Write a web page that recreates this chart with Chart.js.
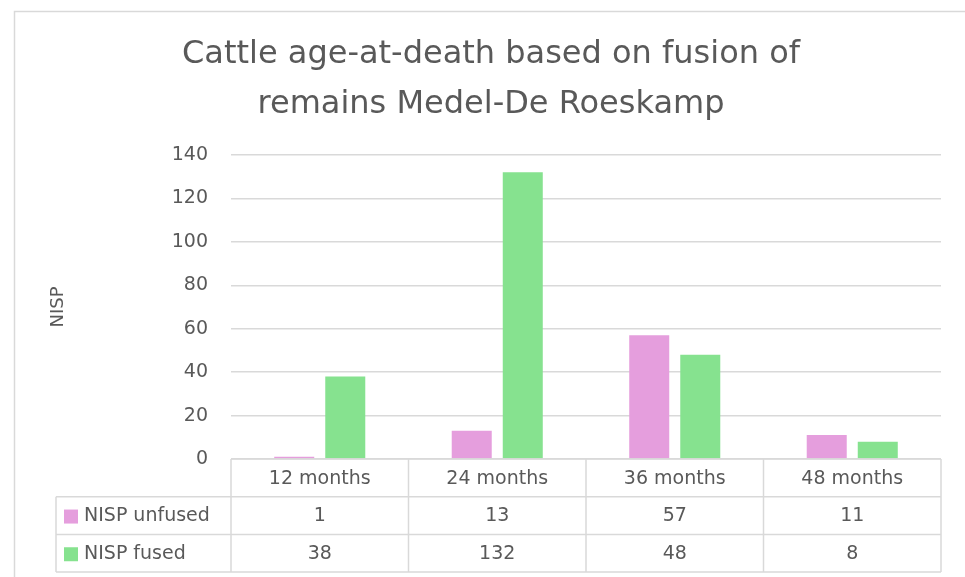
<!DOCTYPE html>
<html>
<head>
<meta charset="utf-8">
<script src="https://cdn.jsdelivr.net/npm/chart.js@4.4.1/dist/chart.umd.min.js"></script>
<style>
  html, body { margin: 0; padding: 0; background: #fff; }
</style>
</head>
<body>
<canvas id="chart" width="965" height="577"></canvas>
<script>
// Данные графика
const categories = ['12 months', '24 months', '36 months', '48 months'];
const unfused = [1, 13, 57, 11];
const fused = [38, 132, 48, 8];
const seriesNames = ['NISP unfused', 'NISP fused'];
const seriesColors = ['#E59EDD', '#86E28F'];
const yMax = 140;
const yStep = 20;

const textColor = '#595959';
const lineColor = '#D9D9D9';
const fontFamily = "'DejaVu Sans', sans-serif";

// Рамка вокруг всей диаграммы и таблица данных под осью X
const tablePlugin = {
    id: 'dataTable',
    beforeDraw(chart) {
        const ctx = chart.ctx;
        ctx.save();
        ctx.fillStyle = '#fff';
        ctx.fillRect(0, 0, chart.width, chart.height);
        ctx.strokeStyle = lineColor;
        ctx.lineWidth = 1.5;
        ctx.strokeRect(14.5, 11.5, chart.width, chart.height);
        ctx.restore();
    },
    afterDraw(chart) {
        const ctx = chart.ctx;
        const area = chart.chartArea;
        const n = categories.length;
        const colW = (area.right - area.left) / n;
        const top = area.bottom;
        const rowH = 37.7;
        const labelLeft = 56;
        const bottom = top + rowH * 3;

        ctx.save();
        ctx.strokeStyle = lineColor;
        ctx.lineWidth = 1.5;
        ctx.beginPath();
        // горизонтальные линии
        ctx.moveTo(area.left, top); ctx.lineTo(area.right, top);
        for (let r = 1; r <= 3; r++) {
            ctx.moveTo(labelLeft, top + rowH * r);
            ctx.lineTo(area.right, top + rowH * r);
        }
        // вертикальные линии
        for (let i = 0; i <= n; i++) {
            const x = area.left + colW * i;
            ctx.moveTo(x, top); ctx.lineTo(x, bottom);
        }
        ctx.moveTo(labelLeft, top + rowH); ctx.lineTo(labelLeft, bottom);
        ctx.stroke();

        ctx.fillStyle = textColor;
        ctx.font = '19px ' + fontFamily;
        ctx.textAlign = 'center';
        ctx.textBaseline = 'middle';
        const xs = chart.scales.x;
        categories.forEach((c, i) => {
            ctx.fillText(c, xs.getPixelForValue(i), top + rowH / 2 + 1);
        });
        chart.data.datasets.forEach((ds, r) => {
            const cy = top + rowH * (r + 1.5) + 1;
            ds.data.forEach((v, i) => {
                ctx.fillText(String(v), xs.getPixelForValue(i), cy);
            });
            // маркер серии и название
            ctx.fillStyle = ds.backgroundColor;
            ctx.fillRect(labelLeft + 8, cy - 7, 14, 14);
            ctx.fillStyle = textColor;
            ctx.textAlign = 'left';
            ctx.fillText(ds.label, labelLeft + 28, cy);
            ctx.textAlign = 'center';
        });
        ctx.restore();
    }
};

const ctx = document.getElementById('chart').getContext('2d');

const chart = new Chart(ctx, {
    type: 'bar',
    data: {
        labels: categories,
        datasets: [
            { label: seriesNames[0], data: unfused, backgroundColor: seriesColors[0] },
            { label: seriesNames[1], data: fused, backgroundColor: seriesColors[1] }
        ]
    },
    options: {
        responsive: false,
        animation: false,
        layout: { padding: { left: 17, right: 0, top: 0, bottom: 118 } },
        datasets: {
            bar: { categoryPercentage: 0.575, barPercentage: 0.784 }
        },
        plugins: {
            legend: { display: false },
            tooltip: { enabled: false },
            title: {
                display: true,
                text: ['Cattle age-at-death based on fusion of', 'remains Medel-De Roeskamp'],
                color: textColor,
                font: { family: fontFamily, size: 32, weight: 'normal', lineHeight: 1.5625 },
                padding: { top: 30, bottom: 25 }
            }
        },
        scales: {
            x: {
                display: false
            },
            y: {
                min: 0,
                max: yMax,
                afterFit(scale) { scale.width = 214; },
                border: { display: false },
                grid: { color: lineColor, lineWidth: 1.5, drawTicks: false },
                ticks: {
                    stepSize: yStep,
                    padding: 23,
                    color: textColor,
                    font: { family: fontFamily, size: 19 }
                },
                title: {
                    display: true,
                    text: 'NISP',
                    color: textColor,
                    font: { family: fontFamily, size: 18 },
                    padding: { top: 31, bottom: 0 }
                }
            },
            // пустая правая ось — только отступ справа
            yRight: {
                position: 'right',
                min: 0,
                max: yMax,
                afterFit(scale) { scale.width = 24; },
                border: { display: false },
                grid: { display: false },
                ticks: { display: false }
            }
        }
    },
    plugins: [tablePlugin]
});
</script>
</body>
</html>
